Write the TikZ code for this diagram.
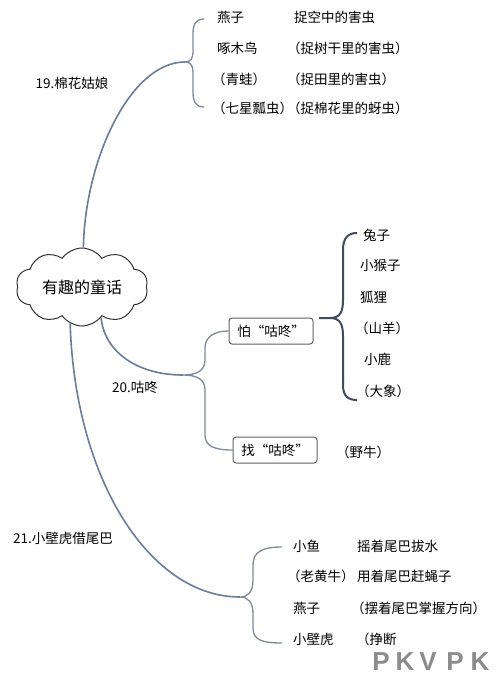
\documentclass[tikz,border=0pt]{standalone}
\usepackage{fontspec}
\setmainfont{Noto Sans CJK SC}
\newfontfamily\wmfont{Liberation Sans}
\usetikzlibrary{shapes.symbols}
\definecolor{branch}{RGB}{105,125,155}
\definecolor{bracec}{RGB}{125,138,155}
\definecolor{darkbrace}{RGB}{65,75,95}
\definecolor{boxc}{RGB}{95,95,95}
\definecolor{wmgray}{RGB}{140,140,140}
\begin{document}
\begin{tikzpicture}[x=1pt,y=-1pt,
  font=\fontsize{13.5}{14}\selectfont,
  txt/.style={anchor=west,inner sep=0pt},
  branchline/.style={draw=branch,line width=1.6pt},
  braceline/.style={draw=bracec,line width=1.3pt},
  darkline/.style={draw=darkbrace,line width=2pt},
  boxnode/.style={draw=boxc,rounded corners=3pt,line width=1pt,minimum width=84pt,minimum height=26pt,inner sep=0pt},
  wm/.style={text=wmgray,font=\wmfont\bfseries\fontsize{26}{26}\selectfont,inner sep=0pt}]
\useasboundingbox (0,0) rectangle (501,688);

% root cloud
\node[cloud, draw=black!80, line width=1pt, cloud puffs=10, cloud puff arc=110, cloud ignores aspect,
      minimum width=132pt, minimum height=78pt, inner sep=0pt,
      font=\fontsize{16}{16}\selectfont] (root) at (82,287) {有趣的童话};

% branch labels
\node (l19) at (72,83) {19.棉花姑娘};
\node (l20) at (135,387) {20.咕咚};
\node (l21) at (63,538) {21.小壁虎借尾巴};

% junctions and brace ends
\coordinate (j19) at (185,62);
\coordinate (j20) at (183,375);
\coordinate (j21) at (240,597);
\coordinate (jpa) at (319,318);
\coordinate (b19t) at (204,19);
\coordinate (b19b) at (204,107);
\coordinate (b21t) at (282,547);
\coordinate (b21b) at (282,643);
\coordinate (bpat) at (357,233);
\coordinate (bpab) at (357,400);

% boxes
\node[boxnode] (pa) at (271,331) {怕“咕咚”};
\node[boxnode] (zhao) at (275,450) {找“咕咚”};

% 19 items
\node[txt] (a1) at (217,17) {燕子};
\node[txt] (a2) at (217,48) {啄木鸟};
\node[txt] (a3) at (212,79) {（青蛙）};
\node[txt] (a4) at (212,108) {（七星瓢虫）};
\node[txt] (c1) at (294,17) {捉空中的害虫};
\node[txt] (c2) at (287,48) {（捉树干里的害虫）};
\node[txt] (c3) at (287,79) {（捉田里的害虫）};
\node[txt] (c4) at (287,108) {（捉棉花里的蚜虫）};

% 20 items
\node[txt] (p1) at (363,235) {兔子};
\node[txt] (p2) at (360,265) {小猴子};
\node[txt] (p3) at (360,297) {狐狸};
\node[txt] (p4) at (355,328) {（山羊）};
\node[txt] (p5) at (364,359) {小鹿};
\node[txt] (p6) at (356,391) {（大象）};
\node[txt] (z1) at (336,452) {（野牛）};

% 21 items
\node[txt] (d1) at (293,546) {小鱼};
\node[txt] (d2) at (287,576) {（老黄牛）};
\node[txt] (d3) at (293,608) {燕子};
\node[txt] (d4) at (293,639) {小壁虎};
\node[txt] (e1) at (357,546) {摇着尾巴拔水};
\node[txt] (e2) at (357,576) {用着尾巴赶蝇子};
\node[txt] (e3) at (351,608) {（摆着尾巴掌握方向）};
\node[txt] (e4) at (356,639) {（挣断};

% branches
\draw[branchline] (root.88) .. controls (85,160) and (130,62) .. (j19);
\draw[branchline] (root.-58) .. controls (104,350) and (135,375) .. (j20);
\draw[branchline] (root.-108) .. controls (75,480) and (150,597) .. (j21);

% braces
\draw[braceline] (b19t) .. controls (196,19) and (193,24) .. (193,34) -- (193,52)
   .. controls (193,59) and (190,62) .. (j19)
   .. controls (190,62) and (193,65) .. (193,72) -- (193,92)
   .. controls (193,102) and (196,107) .. (b19b);
\draw[braceline] (pa.west) .. controls (214,331) and (205,337) .. (205,348) -- (205,360)
   .. controls (205,370) and (198,375) .. (j20)
   .. controls (198,375) and (205,380) .. (205,390) -- (205,435)
   .. controls (205,446) and (214,450) .. (zhao.west);
\draw[darkline] (jpa) -- (330,318) .. controls (340,318) and (343,312) .. (343,300) -- (343,250)
   .. controls (343,238) and (348,233) .. (bpat);
\draw[darkline] (330,318) .. controls (340,318) and (343,324) .. (343,336) -- (343,385)
   .. controls (343,396) and (348,400) .. (bpab);
\draw[braceline] (b21t) .. controls (262,547) and (253,552) .. (253,565) -- (253,580)
   .. controls (253,592) and (248,597) .. (j21)
   .. controls (248,597) and (253,602) .. (253,614) -- (253,628)
   .. controls (253,640) and (262,643) .. (b21b);

% watermark
\node[wm] (w1) at (381,662) {P};
\node[wm] (w2) at (405,662) {K};
\node[wm] (w3) at (428,662) {V};
\node[wm] (w4) at (455,662) {P};
\node[wm] (w5) at (480,662) {K};
\end{tikzpicture}
\end{document}
